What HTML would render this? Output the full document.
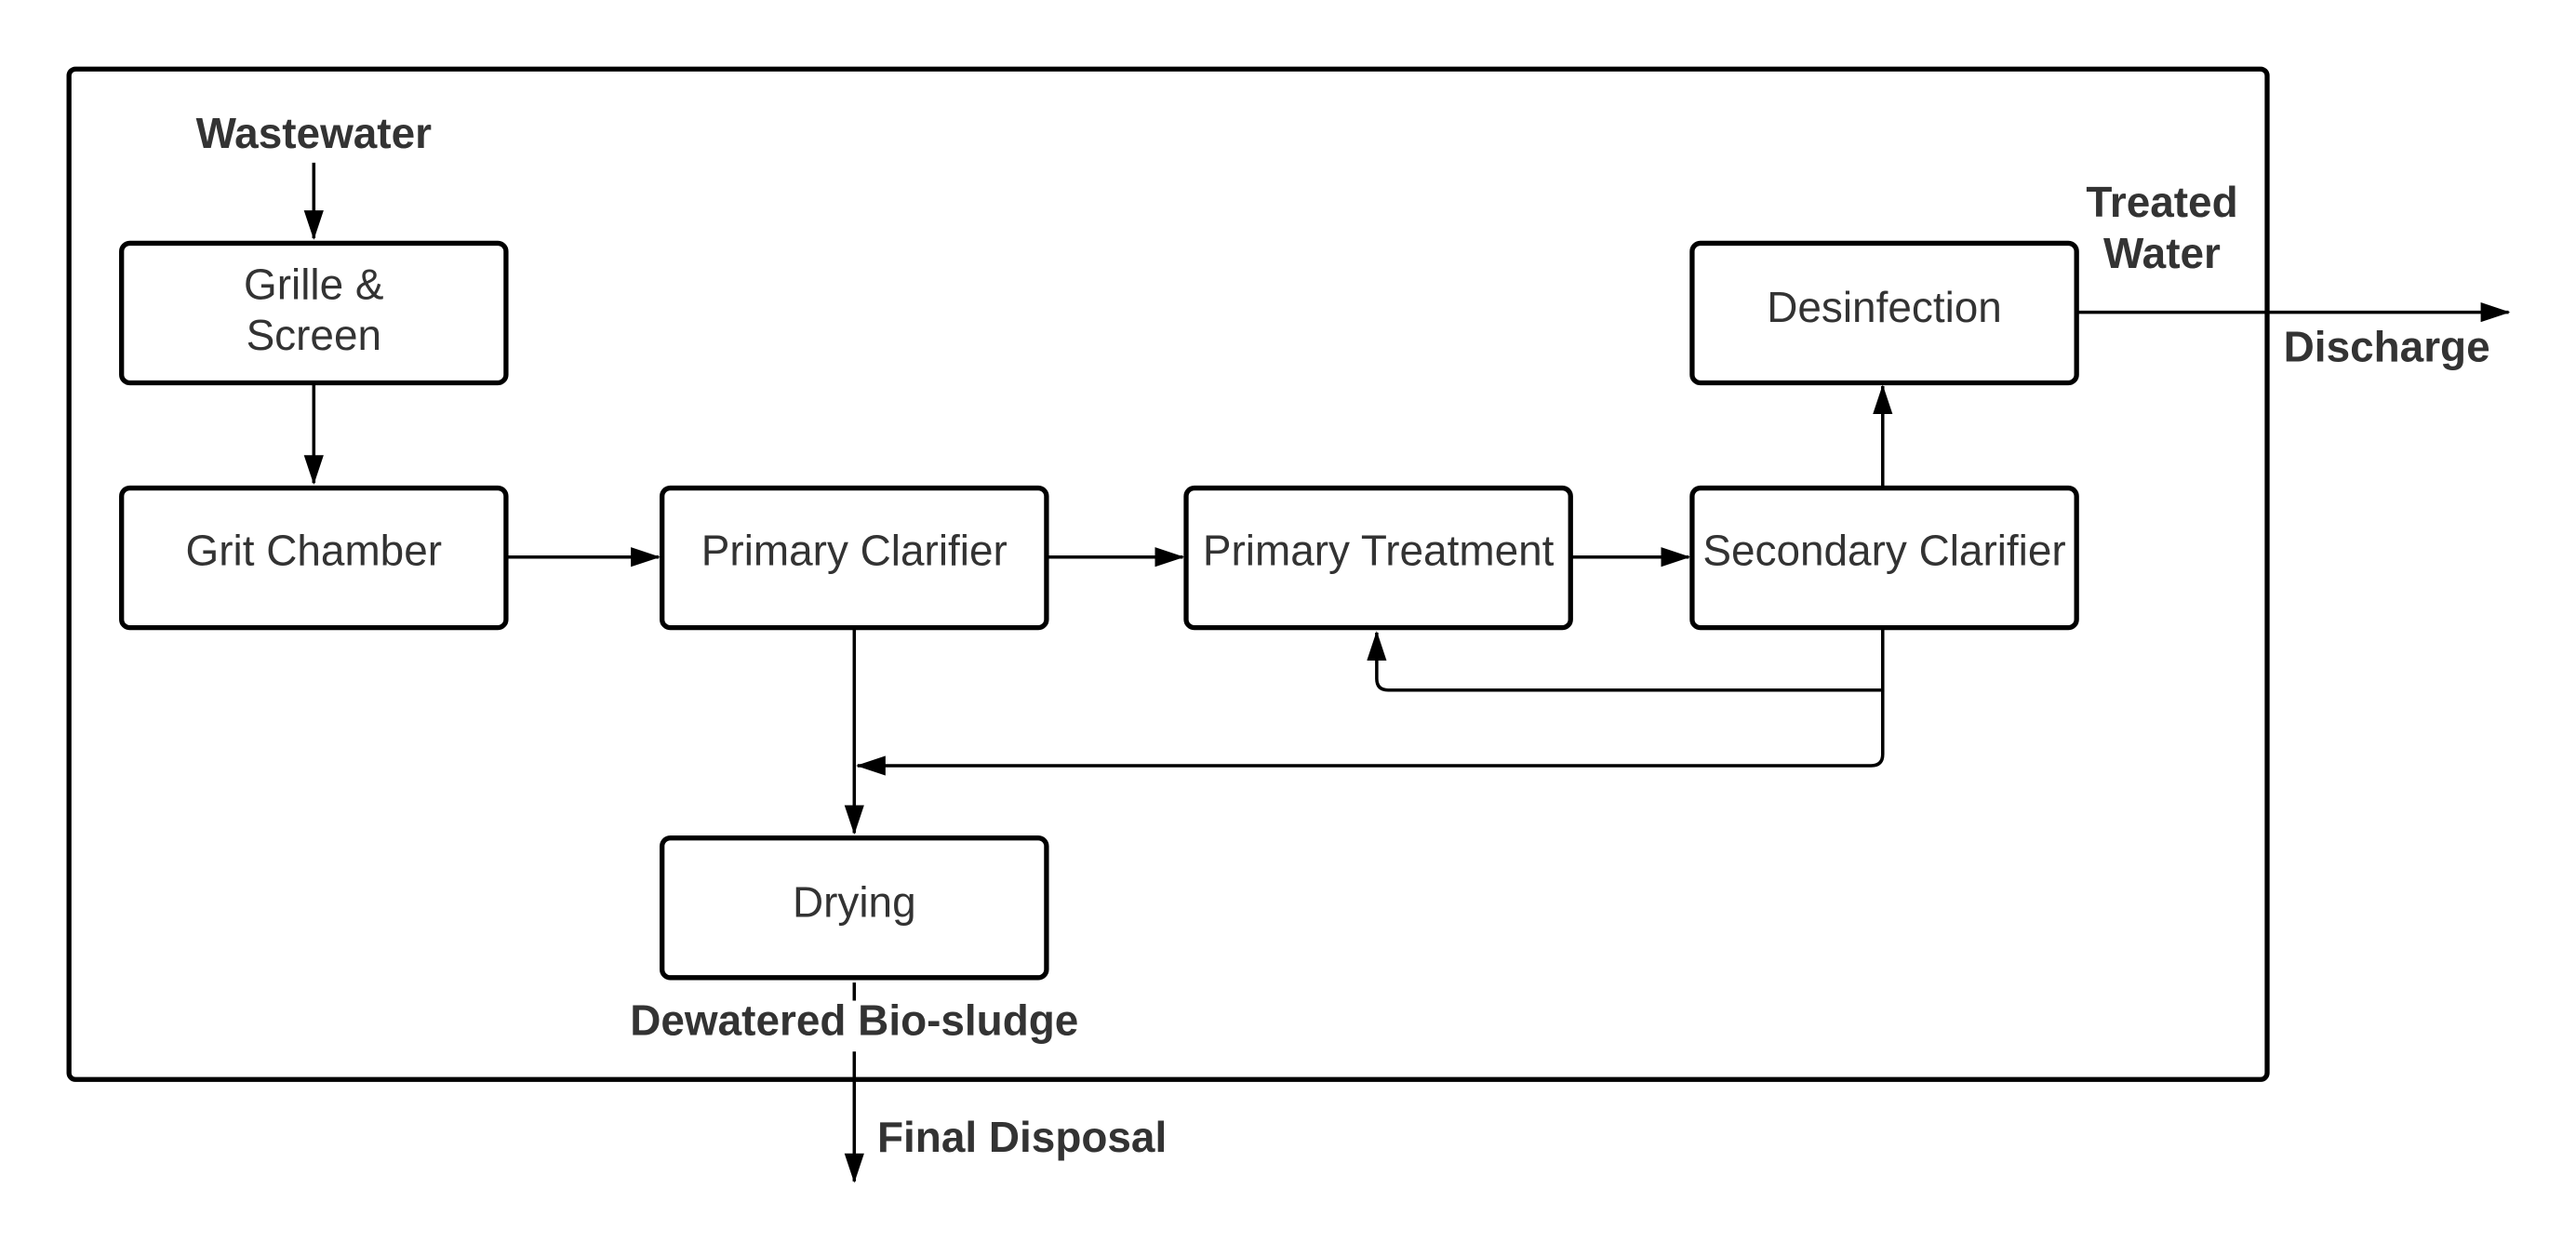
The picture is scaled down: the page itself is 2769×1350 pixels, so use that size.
<!DOCTYPE html>
<html><head><meta charset="utf-8"><style>
html,body{margin:0;padding:0;background:#fff;}
svg{display:block;}
text{font-family:"Liberation Sans",Arial,sans-serif;fill:#333;}
.b{font-size:26px;}
.l{font-size:26px;font-weight:bold;}
</style></head><body>
<svg width="2769" height="1350" viewBox="0 0 1568 764.4" xmlns="http://www.w3.org/2000/svg">
<defs>
<marker id="b" markerWidth="18" markerHeight="12" refX="17" refY="6" orient="auto" markerUnits="userSpaceOnUse">
<path d="M0,0 L18,6 L0,12 Z" fill="#000"/></marker>
</defs>
<rect x="42" y="42" width="1338" height="615" rx="4" fill="none" stroke="#000" stroke-width="3"/>
<g fill="#fff" stroke="#000" stroke-width="3">
<rect x="74" y="148" width="234" height="85" rx="5"/>
<rect x="74" y="297" width="234" height="85" rx="5"/>
<rect x="403" y="297" width="234" height="85" rx="5"/>
<rect x="722" y="297" width="234" height="85" rx="5"/>
<rect x="1030" y="297" width="234" height="85" rx="5"/>
<rect x="1030" y="148" width="234" height="85" rx="5"/>
<rect x="403" y="510" width="234" height="85" rx="5"/>
</g>
<g stroke="#000" stroke-width="2" fill="none">
<line x1="191" y1="99" x2="191" y2="145" marker-end="url(#b)"/>
<line x1="191" y1="234" x2="191" y2="294" marker-end="url(#b)"/>
<line x1="309" y1="339" x2="401" y2="339" marker-end="url(#b)"/>
<line x1="638" y1="339" x2="720" y2="339" marker-end="url(#b)"/>
<line x1="957" y1="339" x2="1028" y2="339" marker-end="url(#b)"/>
<line x1="1146" y1="296" x2="1146" y2="235" marker-end="url(#b)"/>
<line x1="1265" y1="190" x2="1527" y2="190" marker-end="url(#b)"/>
<path d="M1146,383 L1146,420 L845,420 Q838,420 838,413 L838,385" marker-end="url(#b)"/>
<path d="M1146,420 L1146,459 Q1146,466 1139,466 L522,466" marker-end="url(#b)"/>
<line x1="520" y1="383" x2="520" y2="507" marker-end="url(#b)"/>
<line x1="520" y1="598" x2="520" y2="609"/>
<line x1="520" y1="640" x2="520" y2="719" marker-end="url(#b)"/>
</g>
<g class="b" text-anchor="middle">
<text x="191" y="182">Grille &amp;</text>
<text x="191" y="213">Screen</text>
<text x="191" y="344">Grit Chamber</text>
<text x="520" y="344">Primary Clarifier</text>
<text x="839" y="344">Primary Treatment</text>
<text x="1147" y="344">Secondary Clarifier</text>
<text x="1147" y="196">Desinfection</text>
<text x="520" y="558">Drying</text>
</g>
<g class="l">
<text x="191" y="90" text-anchor="middle">Wastewater</text>
<text x="1316" y="132" text-anchor="middle">Treated</text>
<text x="1316" y="163" text-anchor="middle">Water</text>
<text x="1390" y="220">Discharge</text>
<text x="520" y="630" text-anchor="middle">Dewatered Bio-sludge</text>
<text x="534" y="701">Final Disposal</text>
</g>
</svg>
</body></html>
